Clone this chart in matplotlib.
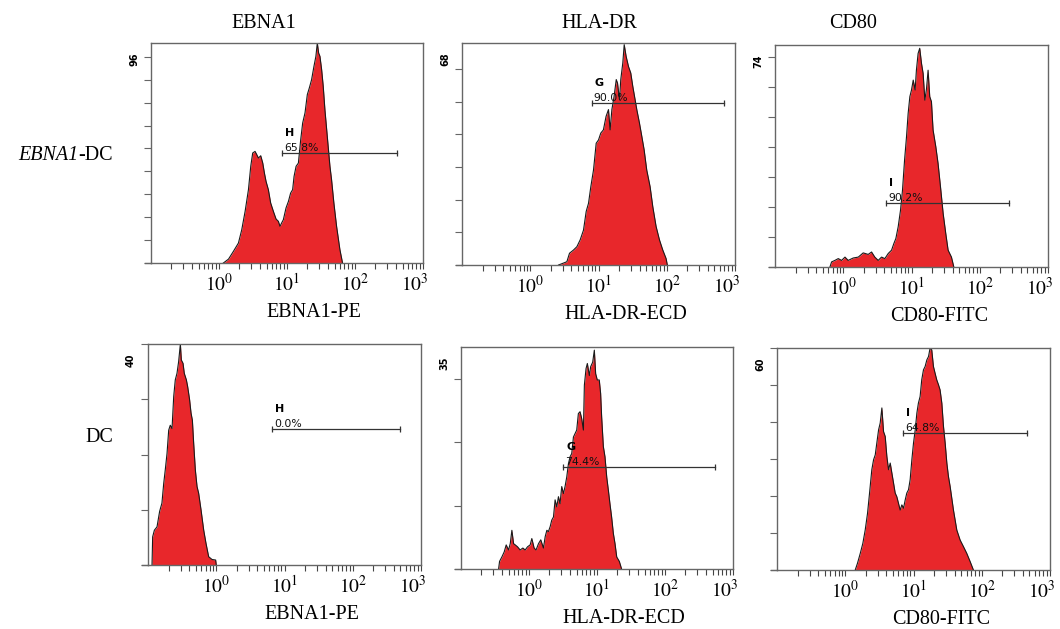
import numpy as np
import matplotlib.pyplot as plt
import matplotlib.transforms as mtransforms
from matplotlib.ticker import LogLocator, NullFormatter

plt.rcParams['font.family'] = ['Liberation Serif', 'DejaVu Serif']
plt.rcParams['mathtext.fontset'] = 'stix'

### histogram data (intensity, events) ###
ebna_dc_ebna1_x = [1.16, 1.38, 1.63, 1.93, 2.16, 2.42, 2.71, 2.93, 3.13, 3.39, 3.59, 3.80, 4.11, 4.40,
                   4.65, 4.92, 5.32, 5.75, 6.31, 6.90, 7.46, 7.89, 8.35, 8.84, 9.67, 10.5, 11.3, 12.1,
                   12.7, 13.6, 14.7, 15.9, 17.0, 18.4, 19.9, 21.3, 23.0, 24.9, 26.6, 27.9, 29.2, 30.5,
                   32.3, 34.1, 36.1, 39.1, 42.8, 45.2, 48.9, 53.6, 60.0, 65.6]
ebna_dc_ebna1_y = [0, 1.7, 5.1, 8.7, 14.5, 22.5, 32.0, 42.2, 48.0, 48.7, 47.3, 45.8, 46.8, 43.6,
                   39.3, 35.6, 32.0, 26.2, 22.5, 19.2, 18.2, 16.0, 17.5, 18.9, 24.0, 26.9, 30.5, 32.0,
                   37.8, 42.2, 43.6, 53.8, 61.1, 65.5, 73.5, 76.4, 80.0, 85.8, 90.2, 96.0, 91.6, 90.2,
                   84.4, 77.1, 66.9, 55.3, 42.2, 36.4, 26.2, 16.0, 5.8, 0]

ebna_dc_hla_x = [2.60, 3.44, 3.76, 4.31, 4.82, 5.39, 6.03, 6.60, 7.14, 7.72, 8.45, 9.25, 10.0, 10.8,
                 11.8, 12.9, 14.0, 14.8, 15.7, 16.9, 18.2, 19.0, 20.3, 21.2, 22.7, 23.8, 25.4, 27.5,
                 29.7, 31.8, 34.4, 36.4, 39.8, 43.1, 46.6, 50.9, 57.0, 62.4, 69.8, 78.2, 87.4, 97.7, 102]
ebna_dc_hla_y = [0, 1.0, 3.6, 4.6, 5.6, 7.7, 10.7, 16.4, 18.9, 24.0, 29.1, 37.3, 38.3, 40.4,
                 41.4, 45.5, 47.6, 41.4, 47.6, 51.6, 56.8, 55.7, 50.6, 56.8, 61.9, 67.5, 63.9, 60.8,
                 58.8, 54.7, 50.6, 47.6, 43.5, 39.4, 35.3, 29.1, 24.0, 17.9, 11.8, 7.7, 4.6, 2.0, 0]

ebna_dc_cd80_x = [0.638, 0.675, 0.755, 0.845, 0.946, 1.06, 1.18, 1.40, 1.66, 1.96, 2.32, 2.60, 2.90,
                  3.25, 3.64, 4.07, 4.56, 5.10, 5.51, 5.90, 6.38, 6.90, 7.38, 7.91, 8.45, 8.93, 9.46,
                  10.0, 10.6, 11.3, 11.8, 12.5, 13.2, 14.0, 14.8, 15.7, 16.6, 17.5, 18.5, 19.6, 20.7,
                  22.7, 24.5, 26.6, 29.1, 31.8, 34.4, 38.5, 41.7]
ebna_dc_cd80_y = [0, 1.7, 2.2, 2.8, 2.2, 3.3, 2.2, 3.0, 3.3, 4.7, 4.2, 5.0, 3.3,
                  2.2, 3.3, 2.8, 4.5, 5.6, 7.8, 9.5, 13.4, 18.9, 25.6, 35.6, 43.4, 51.2, 56.8,
                  59.0, 62.3, 59.0, 65.6, 71.2, 72.9, 67.9, 64.5, 55.6, 59.5, 65.6, 56.8, 55.1, 45.7,
                  40.1, 34.5, 26.7, 17.8, 11.1, 5.6, 3.3, 0]

dc_ebna1_x = [0.1145, 0.117, 0.124, 0.1355, 0.148, 0.160, 0.170, 0.179, 0.190, 0.201, 0.212, 0.225,
              0.238, 0.251, 0.266, 0.281, 0.298, 0.308, 0.326, 0.340, 0.365, 0.381, 0.407, 0.427,
              0.447, 0.467, 0.494, 0.523, 0.552, 0.598, 0.655, 0.708, 0.774, 0.867, 0.980, 1.00]
dc_ebna1_y = [0, 5.1, 6.3, 6.9, 9.7, 11.2, 14.8, 17.2, 20.2, 24.4, 25.3, 24.7,
              30.5, 33.5, 34.7, 36.8, 40.0, 37.1, 36.5, 34.7, 33.5, 32.3, 29.9, 27.5,
              26.2, 22.0, 17.2, 14.2, 13.0, 10.0, 6.3, 3.9, 1.5, 1.0, 0.9, 0]

dc_hla_x = [0.357, 0.369, 0.399, 0.432, 0.462, 0.500, 0.530, 0.560, 0.593, 0.627, 0.678, 0.741,
            0.812, 0.879, 0.951, 1.04, 1.10, 1.19, 1.27, 1.38, 1.49, 1.63, 1.73, 1.83, 1.93, 2.05,
            2.16, 2.29, 2.42, 2.56, 2.71, 2.86, 3.03, 3.21, 3.39, 3.59, 3.80, 4.02, 4.25, 4.50,
            5.03, 5.32, 5.63, 5.96, 6.31, 6.52, 6.90, 7.21, 7.72, 8.07, 8.64, 9.14, 9.55, 10.1,
            10.8, 11.3, 11.7, 12.4, 13.1, 13.9, 14.7, 15.5, 16.4, 17.4, 18.4, 19.5, 21.3, 23.0]
dc_hla_y = [0, 1.2, 1.9, 2.7, 3.8, 3.0, 4.0, 6.1, 4.0, 3.8, 3.5, 3.0,
            3.3, 3.0, 3.5, 3.8, 4.8, 3.3, 3.0, 4.0, 4.6, 3.3, 5.1, 6.1, 5.9, 6.7,
            7.7, 8.2, 10.9, 9.8, 11.4, 10.3, 13.0, 11.9, 13.0, 14.5, 16.6, 17.7, 18.2, 20.8,
            21.9, 24.5, 24.8, 23.7, 21.9, 29.0, 31.6, 32.4, 30.5, 31.9, 32.6, 34.5, 30.8, 29.8,
            29.8, 27.7, 24.0, 19.3, 17.7, 14.5, 12.4, 10.3, 8.2, 5.6, 4.0, 1.9, 1.2, 0]

dc_cd80_x = [1.40, 1.51, 1.66, 1.81, 1.96, 2.12, 2.27, 2.45, 2.60, 2.75, 2.90, 3.08, 3.25, 3.44,
             3.64, 3.85, 4.07, 4.31, 4.56, 4.82, 5.10, 5.39, 5.70, 6.03, 6.38, 6.75, 7.14, 7.55,
             7.98, 8.45, 8.93, 9.46, 10.0, 10.6, 11.2, 11.8, 12.5, 13.2, 14.0, 14.8, 15.7, 16.6,
             17.5, 18.5, 19.6, 20.7, 21.9, 23.2, 24.5, 26.0, 27.5, 29.1, 30.8, 32.5, 34.4, 38.5,
             43.1, 48.2, 54.0, 60.3, 67.5, 75.5]
dc_cd80_y = [0, 1.8, 4.5, 7.2, 10.8, 15.3, 20.8, 27.1, 29.8, 31.1, 34.3, 37.9, 39.7, 43.8,
             37.4, 36.1, 30.7, 27.1, 28.9, 26.2, 23.5, 20.8, 19.8, 18.0, 16.2, 17.6, 16.7, 18.9,
             20.8, 21.7, 24.4, 29.8, 34.3, 37.9, 42.4, 45.1, 46.9, 51.4, 54.1, 55.0, 56.8, 57.7,
             60.0, 59.5, 55.0, 53.2, 51.4, 50.1, 48.7, 45.1, 38.8, 34.3, 28.9, 25.3, 22.6, 16.2,
             10.8, 8.1, 6.3, 4.5, 2.3, 0]

hist_x = [ebna_dc_ebna1_x, ebna_dc_hla_x, ebna_dc_cd80_x, dc_ebna1_x, dc_hla_x, dc_cd80_x]
hist_y = [ebna_dc_ebna1_y, ebna_dc_hla_y, ebna_dc_cd80_y, dc_ebna1_y, dc_hla_y, dc_cd80_y]
y_max = [96, 68, 74, 40, 35, 60]
gate_name = ['H', 'G', 'I', 'H', 'G', 'I']
gate_pct = ['65.8%', '90.0%', '90.2%', '0.0%', '74.4%', '64.8%']
gate_lo = [8.5, 7.9, 4.3, 6.5, 3.2, 7.1]
gate_hi = [417, 690, 270, 490, 550, 460]
gate_y = [48.0, 49.6, 21.3, 24.6, 16.1, 37.0]
x_labels = ['EBNA1-PE', 'HLA-DR-ECD', 'CD80-FITC'] * 2
col_titles = ['EBNA1', 'HLA-DR', 'CD80']

# panel boxes in pixels: left, top, right, bottom
boxes = [(151, 43, 423, 263), (462, 43, 735, 265), (775, 45, 1048, 267),
         (148, 344, 421, 565), (461, 347, 733, 569), (777, 348, 1050, 570)]
W, H = 1060, 629
red = '#e8272b'
frame = '#666666'

fig = plt.figure(figsize=(W / 100, H / 100), dpi=100)
shift_left = mtransforms.ScaledTranslation(-8 / 100, 0, fig.dpi_scale_trans)

for i in range(6):
    l, t, r, b = boxes[i]
    ax = fig.add_axes([l / W, 1 - b / H, (r - l) / W, (b - t) / H])
    ax.fill_between(hist_x[i], hist_y[i], 0, color=red, lw=0)
    ax.plot(hist_x[i], hist_y[i], color='#1a1a1a', lw=0.8)
    ax.set_xscale('log')
    ax.set_xlim(0.1, 1000)
    ax.set_ylim(0, y_max[i])

    # gate marker
    ax.plot([gate_lo[i], gate_hi[i]], [gate_y[i]] * 2, color='#333333', lw=0.9)
    ax.plot([gate_lo[i], gate_hi[i]], [gate_y[i]] * 2, ls='none', marker='|',
            ms=4, mew=0.9, color='#333333')
    ax.annotate(gate_name[i], (gate_lo[i], gate_y[i]), xytext=(2, 11),
                textcoords='offset points', fontsize=8, fontweight='bold',
                family='DejaVu Sans', va='bottom', ha='left')
    ax.annotate(gate_pct[i], (gate_lo[i], gate_y[i]), xytext=(1.5, 0),
                textcoords='offset points', fontsize=7.8, family='DejaVu Sans',
                color='#111111', va='bottom', ha='left')

    for s in ax.spines.values():
        s.set_color(frame)
        s.set_linewidth(1.0)
    ax.plot([-0.022, 0], [0, 0], transform=ax.transAxes, color=frame, lw=1.0, clip_on=False)

    ax.set_xticks([1, 10, 100, 1000])
    ax.set_xticklabels([r'$10^{0}$', r'$10^{1}$', r'$10^{2}$', r'$10^{3}$'])
    ax.xaxis.set_minor_locator(LogLocator(base=10, subs=np.arange(2, 10)))
    ax.xaxis.set_minor_formatter(NullFormatter())
    ax.tick_params(axis='x', which='both', direction='out', length=4, width=0.8,
                   color='#444444', labelsize=14, pad=3)
    last = ax.get_xticklabels()[-1]
    last.set_transform(last.get_transform() + shift_left)
    ax.set_yticks(np.arange(0, y_max[i] + 0.1, 10))
    ax.set_yticklabels([])
    ax.tick_params(axis='y', direction='out', length=5, width=0.8, color=frame)

    ax.text(-0.062, 0.928, str(y_max[i]), transform=ax.transAxes, rotation=90,
            fontsize=7, fontweight='bold', family='DejaVu Sans', ha='center', va='center')
    ax.text(0.60, -0.225, x_labels[i], transform=ax.transAxes, fontsize=14.5,
            ha='center', va='center')

col_x = [264, 599, 853]
for name, cx in zip(col_titles, col_x):
    fig.text(cx / W, 1 - 23 / H, name, fontsize=14.5, ha='center', va='center')
fig.text(78 / W, 1 - 156 / H, 'EBNA1', fontsize=14.5, fontstyle='italic',
         ha='right', va='center')
fig.text(78 / W, 1 - 156 / H, '-DC', fontsize=14.5, ha='left', va='center')
fig.text(99 / W, 1 - 438 / H, 'DC', fontsize=14.5, ha='center', va='center')

plt.savefig('out.png', dpi=100)
